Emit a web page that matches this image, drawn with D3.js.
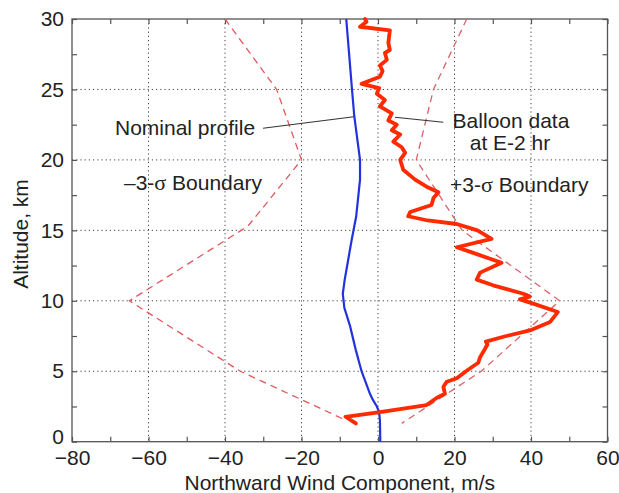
<!DOCTYPE html>
<html><head><meta charset="utf-8">
<script src="https://cdn.jsdelivr.net/npm/d3@7/dist/d3.min.js"></script>
<style>body{margin:0;background:#fff}svg{display:block}</style>
</head><body><svg id="chart" width="619" height="493"></svg>
<script>
// ---- data ----
const xLabelTicks = [-80, -60, -40, -20, 0, 20, 40, 60];
const xGridTicks = [-60, -40, -20, 0, 20, 40];
const yLabelTicks = [0, 5, 10, 15, 20, 25, 30];
const yGridTicks = [5, 10, 15, 20, 25];

const nominalAlt  = [0, 1.5, 2.1, 2.5, 3.0, 3.4, 5, 6.5, 8.2, 9.5, 10.5, 11.5, 12.9, 14.3, 16, 18.6, 20, 23.1, 25, 30];
const nominalWind = [0.6, 0.5, 0.3, -0.3, -1.4, -2.1, -4.3, -5.8, -7.3, -8.8, -9.2, -8.7, -7.8, -6.9, -5.7, -4.7, -4.7, -6.2, -6.8, -8.3];

const minusAlt  = [30, 25, 20, 15.3, 10, 5, 1.6];
const minusWind = [-40, -26.5, -20, -34, -65, -36, -9];
const plusAlt  = [30, 25, 20, 15, 10, 5, 1.3];
const plusWind = [23.2, 14.5, 10, 22, 47.5, 27, 6.2];

const balloonAlt = [30.0, 29.8, 29.45, 29.2, 28.3, 27.8, 27.6, 27.1, 26.7, 26.3, 25.9, 25.4, 25.1, 24.7, 24.25, 23.8, 23.3, 22.8, 22.5, 22.1, 21.8, 21.3, 20.9, 20.5, 20.0,
  19.3, 18.6, 18.1, 17.7, 17.3, 16.8, 16.3, 16.0, 15.7, 15.45, 15.0, 14.4, 13.8, 13.4, 12.7, 12.0, 11.5, 11.1, 10.5, 10.3, 10.1, 9.8, 9.2, 8.5, 7.9, 7.45, 7.1, 6.9, 6.6, 6.0, 5.6, 5.0, 4.5, 4.26, 3.9, 3.4, 3.1, 2.6, 2.1, 1.77, 1.3];
const balloonWind = [-3.4, -3.0, -4.7, 3.1, 2.7, 3.1, 1.8, 2.3, 0.5, 1.2, 0.5, -4.3, 0.3, -0.3, 1.8, 0.5, 3.6, 2.7, 4.9, 3.6, 5.8, 4.0, 6.2, 7.1, 5.8,
  6.6, 9.7, 12.7, 15.8, 14.5, 14.0, 8.4, 7.9, 13.0, 20.6, 26.0, 29.7, 20.6, 24.9, 32.3, 26.7, 25.8, 30.1, 38.0, 39.7, 37.1, 40.6, 47.0, 45.0, 39.7, 32.8, 28.2, 28.6, 28.0, 26.7, 26.2, 23.0, 20.6, 18.0, 17.1, 17.5, 15.3, 12.7, 0.5, -8.5, -5.8];

// ---- layout ----
const svg = d3.select("#chart");
const L = 72, R = 607.5, T = 19, B = 441.7;
const x = d3.scaleLinear().domain([-80, 60]).range([L, R]);
const y = d3.scaleLinear().domain([0, 30]).range([B, T]);
const font = "'Liberation Sans', Arial, Helvetica, sans-serif";
const fs = 21;

// grid
const grid = svg.append("g").attr("stroke", "#444").attr("stroke-width", 1).attr("stroke-dasharray", "1.2,3");
grid.selectAll(".gx").data(xGridTicks).join("line")
  .attr("x1", d => x(d)).attr("x2", d => x(d)).attr("y1", T).attr("y2", B);
grid.selectAll(".gy").data(yGridTicks).join("line")
  .attr("y1", d => y(d)).attr("y2", d => y(d)).attr("x1", L).attr("x2", R);

// axes
const minorX = d3.range(-80, 61, 10);
const minorY = d3.range(0, 30.01, 2.5);
function styleAxis(g) {
  g.select(".domain").remove();
  g.selectAll(".tick line").attr("stroke", "#555").attr("stroke-width", 1.2);
  g.selectAll("text").attr("font-family", font).attr("font-size", fs).attr("fill", "#222");
}
svg.append("g").attr("transform", `translate(0,${B})`)
  .call(d3.axisBottom(x).tickValues(minorX).tickSizeInner(-5).tickSizeOuter(0).tickPadding(8)
    .tickFormat(d => xLabelTicks.includes(d) ? d3.format("d")(d).replace("-", "\u2212") : ""))
  .call(styleAxis);
svg.append("g").attr("transform", `translate(0,${T})`)
  .call(d3.axisTop(x).tickValues(minorX).tickSizeInner(-5).tickSizeOuter(0).tickFormat(""))
  .call(styleAxis);
const yAx = svg.append("g").attr("transform", `translate(${L},0)`)
  .call(d3.axisLeft(y).tickValues(minorY).tickSizeInner(-5).tickSizeOuter(0).tickPadding(8)
    .tickFormat(d => yLabelTicks.includes(d) ? d3.format("d")(d) : ""))
  .call(styleAxis);
// the "0" label sits a little above its tick, clear of the x labels
yAx.selectAll(".tick").filter(d => d === 0).select("text").attr("dy", "0.08em");
svg.append("g").attr("transform", `translate(${R},0)`)
  .call(d3.axisRight(y).tickValues(minorY).tickSizeInner(-5).tickSizeOuter(0).tickFormat(""))
  .call(styleAxis);

// frame
svg.append("rect").attr("x", L).attr("y", T).attr("width", R - L).attr("height", B - T)
  .attr("fill", "none").attr("stroke", "#555").attr("stroke-width", 1.3);

// lines
const line = d3.line().x(d => x(d[1])).y(d => y(d[0]));
const zip = (a, b) => a.map((v, i) => [v, b[i]]);

svg.append("path").datum(zip(minusAlt, minusWind)).attr("d", line)
  .attr("fill", "none").attr("stroke", "#e0595d").attr("stroke-width", 1.3).attr("stroke-dasharray", "7,5");
svg.append("path").datum(zip(plusAlt, plusWind)).attr("d", line)
  .attr("fill", "none").attr("stroke", "#d8636a").attr("stroke-width", 1.3).attr("stroke-dasharray", "7,5");

// annotation leaders
const lead = svg.append("g").attr("stroke", "#333").attr("stroke-width", 1.1);
lead.append("line").attr("x1", 263).attr("y1", 128.3).attr("x2", x(-6.3)).attr("y2", 116.7);
lead.append("line").attr("x1", 395).attr("y1", 117.3).attr("x2", 443.3).attr("y2", 122.3);

svg.append("path").datum(zip(nominalAlt, nominalWind)).attr("d", line)
  .attr("fill", "none").attr("stroke", "#2233dd").attr("stroke-width", 2.2);
svg.append("path").datum(zip(balloonAlt, balloonWind)).attr("d", line)
  .attr("fill", "none").attr("stroke", "#ff2a00").attr("stroke-width", 3.8)
  .attr("stroke-linejoin", "round").attr("stroke-linecap", "round");

// texts
const txt = (xx, yy, s, anchor) => svg.append("text").attr("x", xx).attr("y", yy)
  .attr("font-family", font).attr("font-size", fs).attr("fill", "#222")
  .attr("text-anchor", anchor || "start").text(s);
txt(115, 135, "Nominal profile");
txt(511, 128.3, "Balloon data", "middle");
txt(510, 150, "at E-2 hr", "middle");
const sig = (xx, yy, pre) => {
  const t = svg.append("text").attr("x", xx).attr("y", yy)
    .attr("font-family", font).attr("font-size", fs).attr("fill", "#222");
  t.append("tspan").text(pre + "3-");
  t.append("tspan").attr("font-family", "'Liberation Serif', 'Times New Roman', serif").attr("font-size", fs + 1).text("\u03c3");
  t.append("tspan").text(" Boundary");
};
sig(124, 190, "\u2013");
sig(450, 191.5, "+");

// axis titles
svg.append("text").attr("x", (L + R) / 2).attr("y", 490).attr("text-anchor", "middle")
  .attr("font-family", font).attr("font-size", fs).attr("fill", "#222")
  .text("Northward Wind Component, m/s");
svg.append("text").attr("transform", `translate(28,234) rotate(-90)`).attr("text-anchor", "middle")
  .attr("font-family", font).attr("font-size", fs).attr("fill", "#222")
  .text("Altitude, km");
</script></body></html>
